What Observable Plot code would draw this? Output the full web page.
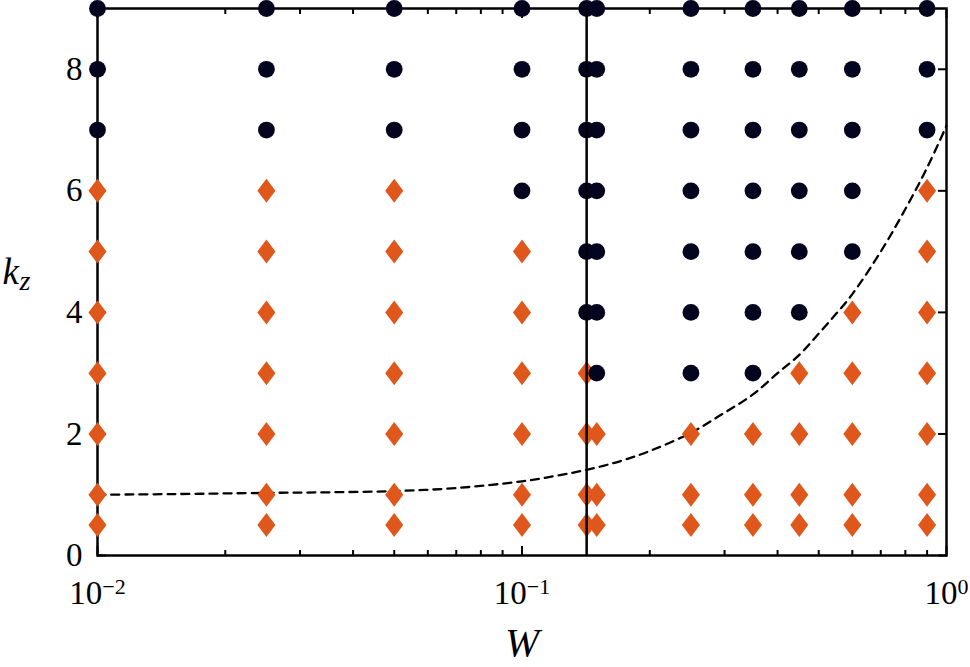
<!DOCTYPE html>
<html><head><meta charset="utf-8">
<script src="https://cdn.jsdelivr.net/npm/d3@7"></script>
<script src="https://cdn.jsdelivr.net/npm/@observablehq/plot@0.6"></script>
<style>body{margin:0;background:#fff}#chart{width:970px;height:667px}</style>
</head><body><div id="chart"></div>
<script>
// ---- data ----
const wValues = [0.01, 0.025, 0.05, 0.1, 0.142, 0.15, 0.25, 0.35, 0.45, 0.6, 0.9];
const kzValues = [0.5, 1, 2, 3, 4, 5, 6, 7, 8, 9];
// lowest kz shown as a (dark) circle in each W column; below it: orange diamonds
const circleFromKz = [7, 7, 7, 6, 4, 3, 3, 3, 4, 5, 7];
const curveW  = [0.01, 0.015, 0.025, 0.035, 0.05, 0.07, 0.1, 0.12, 0.142, 0.17, 0.2, 0.25, 0.3, 0.35, 0.4, 0.45, 0.5, 0.55, 0.6, 0.7, 0.8, 0.9, 1.0];
const curveKz = [1.00, 1.01, 1.03, 1.04, 1.06, 1.11, 1.22, 1.31, 1.41, 1.55, 1.72, 2.02, 2.35, 2.65, 3.0, 3.3, 3.65, 3.98, 4.3, 5.0, 5.7, 6.38, 7.07];
const boundaryW = [0.142];
const xMajorTicks = [0.01, 0.1, 1];
const xMinorTicks = [0.02, 0.03, 0.04, 0.05, 0.06, 0.07, 0.08, 0.09, 0.2, 0.3, 0.4, 0.5, 0.6, 0.7, 0.8, 0.9];
const xTickExponents = ["\u22122", "\u22121", "0"];
const yTicks = [0, 2, 4, 6, 8];

const circles = [], diamonds = [];
wValues.forEach((w, i) => kzValues.forEach(k => {
  (k >= circleFromKz[i] ? circles : diamonds).push({w, k});
}));
const curve = curveW.map((w, i) => ({w, k: curveKz[i]}));

const diamondSymbol = {
  draw(ctx, size) {
    const r = Math.sqrt(size / Math.PI);
    const h = r * 1.5, w = r * 1.13;
    ctx.moveTo(0, -h); ctx.lineTo(w, 0); ctx.lineTo(0, h); ctx.lineTo(-w, 0); ctx.closePath();
  }
};

const navy = "#05041f", orange = "#e0571c";
const font = "'Liberation Serif', 'Times New Roman', serif";
const tickOpts = {strokeWidth: 2, tickFormat: () => "", label: null};

const plot = Plot.plot({
  width: 970, height: 667,
  marginTop: 8, marginBottom: 112, marginLeft: 97, marginRight: 24,
  x: {type: "log", domain: [0.01, 1], axis: null},
  y: {domain: [0, 9], axis: null},
  style: {fontFamily: font, background: "white", color: "black"},
  marks: [
    Plot.frame({stroke: "black", strokeWidth: 2.5}),
    Plot.axisX(xMinorTicks, {anchor: "bottom", tickSize: -5, ...tickOpts}),
    Plot.axisX(xMajorTicks, {anchor: "bottom", tickSize: -9, ...tickOpts}),
    Plot.axisX(xMinorTicks, {anchor: "top", tickSize: -5, ...tickOpts}),
    Plot.axisX(xMajorTicks, {anchor: "top", tickSize: -9, ...tickOpts}),
    Plot.axisY(yTicks, {anchor: "left", tickSize: -9, ...tickOpts}),
    Plot.axisY(yTicks, {anchor: "right", tickSize: -9, ...tickOpts}),
    Plot.line(curve, {x: "w", y: "k", stroke: "black", strokeWidth: 2.3, strokeDasharray: "8,6", curve: "catmull-rom"}),
    Plot.dot(diamonds, {x: "w", y: "k", r: 8, symbol: diamondSymbol, fill: orange, stroke: "none"}),
    Plot.dot(circles, {x: "w", y: "k", r: 8.4, symbol: "circle", fill: navy, stroke: "none"}),
    Plot.ruleX(boundaryW, {stroke: "black", strokeWidth: 2.5}),
    Plot.text(yTicks, {y: d => d, text: d => String(d), frameAnchor: "left", dx: -15, textAnchor: "end", fontSize: 33, fill: "black"}),
    Plot.text(xMajorTicks, {x: d => d, text: () => "10", frameAnchor: "bottom", dy: 48, lineAnchor: "bottom", textAnchor: "middle", fontSize: 33, fill: "black"}),
    Plot.text(["k"], {frameAnchor: "left", dx: -95, dy: 2, lineAnchor: "bottom", textAnchor: "start", fontSize: 37, fontStyle: "italic", fill: "black"}),
    Plot.text(["z"], {frameAnchor: "left", dx: -78, dy: 8, lineAnchor: "bottom", textAnchor: "start", fontSize: 28, fontStyle: "italic", fill: "black"}),
    Plot.text(["W"], {frameAnchor: "bottom", dy: 100, lineAnchor: "bottom", textAnchor: "middle", fontSize: 41, fontStyle: "italic", fill: "black"})
  ]
});

// superscript exponents on the decade labels
let idx = 0;
plot.querySelectorAll("text").forEach(t => {
  if (t.textContent === "10" && idx < xTickExponents.length) {
    const ts = document.createElementNS("http://www.w3.org/2000/svg", "tspan");
    ts.setAttribute("font-size", "22");
    ts.setAttribute("dy", "-10");
    ts.textContent = xTickExponents[idx++];
    t.appendChild(ts);
  }
});
document.getElementById("chart").appendChild(plot);
</script>
</body></html>
